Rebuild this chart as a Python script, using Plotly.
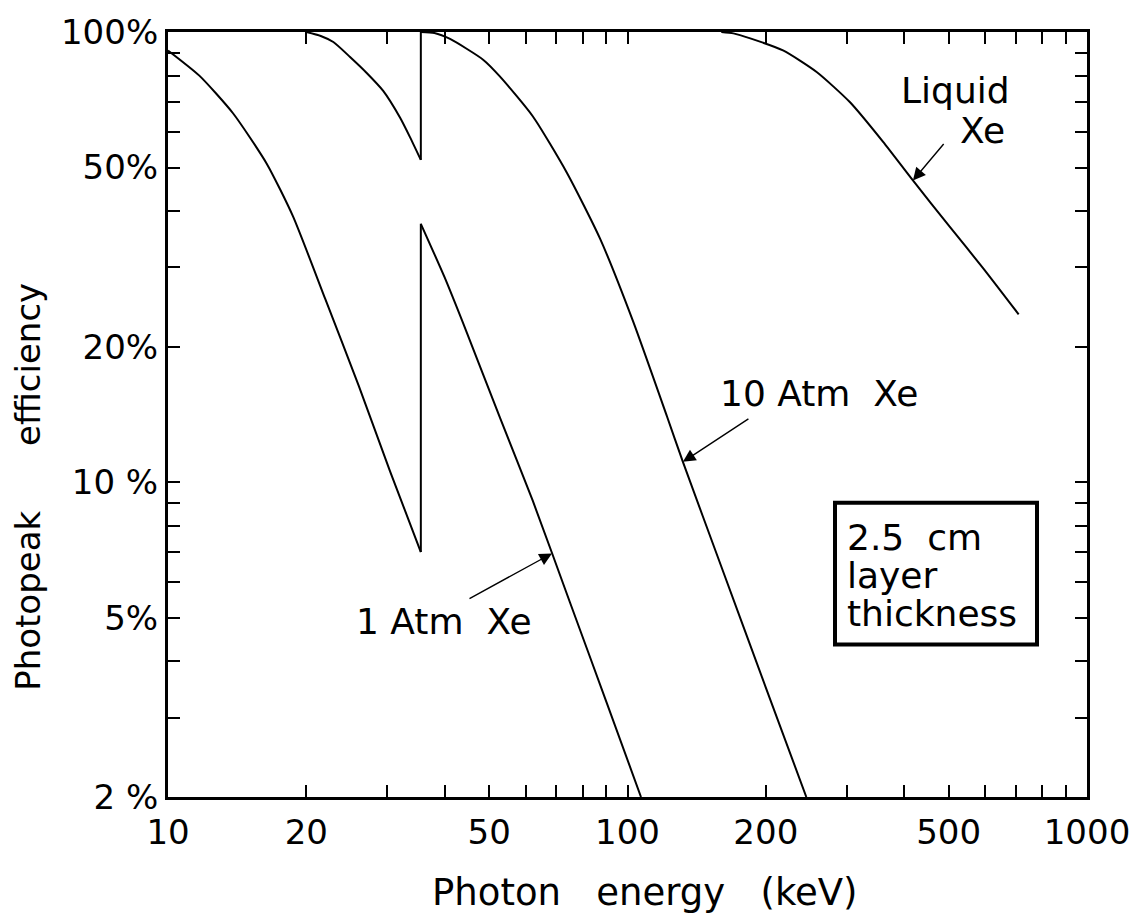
import numpy as np
import plotly.graph_objects as go

# ---------------- data ----------------
# 1 Atm Xe : below and above the K edge
energy_1atm_lo = [10, 11.7, 13.85, 16.4, 18.7, 22.0, 26.0, 30.4, 35.5]
eff_1atm_lo = [91, 80, 66, 51, 39, 25.5, 16.4, 10.6, 7.0]
energy_1atm_hi = [35.5, 40, 44.7, 52.8, 62.2, 75, 90, 107]
eff_1atm_hi = [37.5, 28.5, 21.5, 13.9, 9.1, 5.4, 3.25, 2.0]

# 10 Atm Xe
energy_10atm_lo = [20, 21.5, 22.9, 24.9, 27.1, 29.4, 32, 33.6, 35.5]
eff_10atm_lo = [100, 98.0, 95, 88, 81, 74, 64.5, 58.5, 52]
energy_10atm_hi = [35.5, 38, 41.1, 48.5, 52.8, 62.2, 73.8, 87.1, 102.8, 121.9, 132, 160, 200, 245]
eff_10atm_hi = [100, 99.5, 96.5, 86.8, 79.6, 65, 48.7, 34.8, 22.8, 14.0, 11.1, 6.5, 3.5, 2.0]

# Liquid Xe
energy_liquid = [160, 170, 185, 218, 258, 305, 360, 418, 503, 594, 710]
eff_liquid = [100, 99.3, 96.8, 91.0, 81.5, 69.8, 57.0, 46.8, 36.9, 29.9, 23.6]

x_tickvals = [10, 20, 30, 40, 50, 60, 70, 80, 90, 100,
              200, 300, 400, 500, 600, 700, 800, 900, 1000]
x_ticktext = ["10", "20", "", "", "50", "", "", "", "", "100",
              "200", "", "", "500", "", "", "", "", "1000"]
y_tickvals = [2, 3, 4, 5, 6, 7, 8, 9, 10, 20, 30, 40, 50, 60, 70, 80, 90, 100]
y_ticktext = ["2 %", "", "", "5%", "", "", "", "", "10 %", "20%", "", "", "50%",
              "", "", "", "", "100%"]

FONT = "DejaVu Sans"
L = np.log10

fig = go.Figure()
line = dict(color="black", width=2)
smooth_segments = [(energy_1atm_lo, eff_1atm_lo), (energy_1atm_hi, eff_1atm_hi),
                   (energy_10atm_lo, eff_10atm_lo), (energy_10atm_hi, eff_10atm_hi),
                   (energy_liquid, eff_liquid)]
for xs, ys in smooth_segments:
    fig.add_trace(go.Scatter(x=xs, y=ys, mode="lines", hoverinfo="skip",
                             line=dict(color="black", width=2, shape="spline", smoothing=0.6)))
# vertical K-edge jumps
for lo_x, lo_y, hi_x, hi_y in [(energy_1atm_lo, eff_1atm_lo, energy_1atm_hi, eff_1atm_hi),
                               (energy_10atm_lo, eff_10atm_lo, energy_10atm_hi, eff_10atm_hi)]:
    fig.add_trace(go.Scatter(x=[lo_x[-1], hi_x[0]], y=[lo_y[-1], hi_y[0]], mode="lines",
                             hoverinfo="skip", line=line))

axis_common = dict(showline=True, linecolor="black", linewidth=3, mirror="allticks",
                   ticks="inside", ticklen=12, tickwidth=2, tickcolor="black",
                   showgrid=False, zeroline=False, type="log",
                   tickfont=dict(family=FONT, size=34, color="black"))

fig.update_xaxes(range=[1, 3], tickvals=x_tickvals, ticktext=x_ticktext,
                 ticklabelstandoff=3, **axis_common)
fig.update_yaxes(range=[L(2), 2], tickvals=y_tickvals, ticktext=y_ticktext,
                 ticklabelstandoff=0, **axis_common)

# plot-area pixel -> paper helpers (plot area: x 168..1087, y 25..797)
def px(xp):
    return (xp - 168) / 919.0

def py(yp):
    return (797 - yp) / 772.0

ann = []
lab = dict(xref="paper", yref="paper", showarrow=False, yanchor="middle", xanchor="center")
ann.append(dict(lab, x=px(955), y=py(84), text="Liquid"))
ann.append(dict(lab, x=px(982), y=py(124), text="Xe"))
ann.append(dict(lab, x=px(718), y=py(390), text="10 Atm \u00a0Xe", xanchor="left"))
ann.append(dict(lab, x=px(354), y=py(620), text="1 Atm \u00a0Xe", xanchor="left"))

# arrows (tips on the curves)
for tx, ty, axp, ayp in [(418, 46.8, 32, -38), (132, 11.1, 67, -44), (68.5, 6.95, -84, 46)]:
    ann.append(dict(x=L(tx), y=L(ty), text="", showarrow=True, ax=axp, ay=ayp,
                    arrowhead=2, arrowsize=1.8, arrowwidth=1.4, arrowcolor="black"))

# boxed note: lines of text
for txt, yc in [("2.5\u00a0\u00a0cm", 535), ("layer", 573), ("thickness", 612)]:
    ann.append(dict(lab, x=px(845), y=py(yc), text=txt, xanchor="left"))

# axis titles
ann.append(dict(lab, x=px(645), y=py(893),
                text="Photon \u00a0\u00a0energy \u00a0\u00a0(keV)",
                font=dict(family=FONT, size=37, color="black")))
ann.append(dict(lab, x=px(28), y=py(484), textangle=-90,
                text="Photopeak \u00a0\u00a0\u00a0\u00a0\u00a0efficiency",
                font=dict(family=FONT, size=34, color="black")))

for a in ann:
    a.setdefault("font", dict(family=FONT, size=36, color="black"))

fig.update_layout(annotations=ann,
                  shapes=[dict(type="rect", xref="paper", yref="paper",
                               x0=px(835), x1=px(1037), y0=py(643), y1=py(500),
                               line=dict(color="black", width=4), fillcolor="rgba(0,0,0,0)")])

fig.update_layout(width=1144, height=921, showlegend=False,
                  margin=dict(l=168, r=57, t=25, b=124),
                  plot_bgcolor="white", paper_bgcolor="white",
                  font=dict(family=FONT, size=34, color="black"))

fig.write_html("out.html")
